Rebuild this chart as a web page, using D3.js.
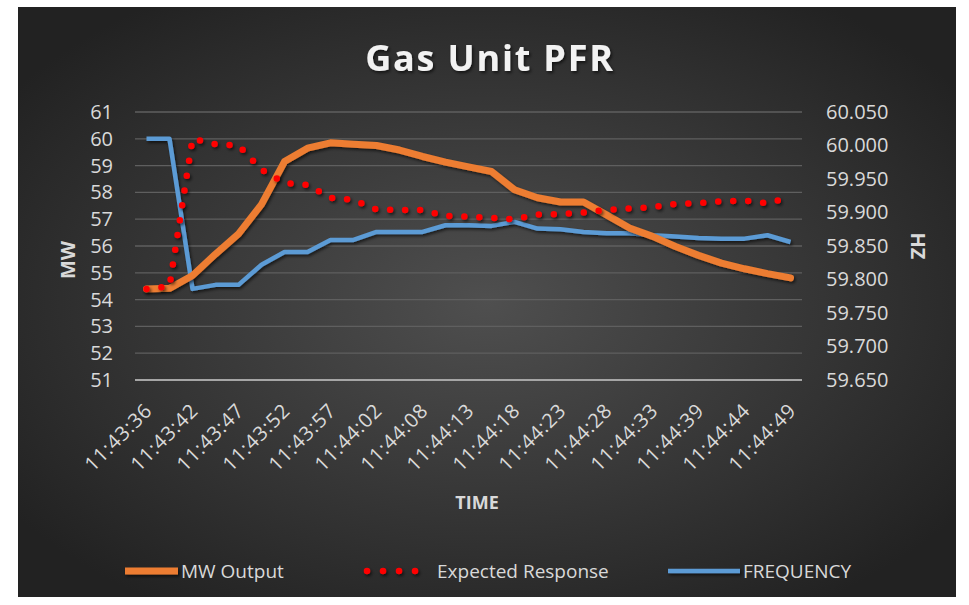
<!DOCTYPE html>
<html>
<head>
<meta charset="utf-8">
<script src="https://cdnjs.cloudflare.com/ajax/libs/d3/7.8.5/d3.min.js"></script>
<style>
    body { margin: 0; background: #fff; }
    text { font-family: "Open Sans", "Noto Sans", sans-serif; }
</style>
</head>
<body>
<div id="chart"></div>
<script>

var times = ["11:43:36", "11:43:39", "11:43:42", "11:43:44", "11:43:47", "11:43:49", "11:43:52", "11:43:54",
    "11:43:57", "11:44:00", "11:44:02", "11:44:05", "11:44:08", "11:44:10", "11:44:13", "11:44:15",
    "11:44:18", "11:44:20", "11:44:23", "11:44:26", "11:44:28", "11:44:31", "11:44:33", "11:44:36",
    "11:44:39", "11:44:41", "11:44:44", "11:44:46", "11:44:49"];

var timeLabels = ["11:43:36", "11:43:42", "11:43:47", "11:43:52", "11:43:57", "11:44:02", "11:44:08",
    "11:44:13", "11:44:18", "11:44:23", "11:44:28", "11:44:33", "11:44:39", "11:44:44", "11:44:49"];

var mwOutput = [54.4, 54.42, 54.9, 55.7, 56.45, 57.55, 59.15, 59.65, 59.85, 59.8, 59.75, 59.58, 59.34, 59.13,
    58.95, 58.78, 58.1, 57.8, 57.64, 57.64, 57.16, 56.67, 56.36, 55.98, 55.65, 55.36, 55.15, 54.97, 54.81];

var expectedResponse = [54.4, 54.5, 60.0, 59.8, 59.75, 58.85, 58.35, 58.28, 57.8, 57.72, 57.36, 57.35, 57.34,
    57.12, 57.1, 57.05, 57.0, 57.17, 57.19, 57.25, 57.35, 57.4, 57.45, 57.57, 57.6, 57.67, 57.69, 57.6, 57.82];

var frequency = [60.01, 60.01, 59.786, 59.792, 59.792, 59.822, 59.841, 59.841, 59.859, 59.859, 59.871, 59.871,
    59.871, 59.881, 59.881, 59.880, 59.886, 59.876, 59.875, 59.871, 59.869, 59.869, 59.866, 59.864, 59.862,
    59.861, 59.861, 59.866, 59.856];

var mwTicks = [51, 52, 53, 54, 55, 56, 57, 58, 59, 60, 61];
var hzTicks = [59.65, 59.70, 59.75, 59.80, 59.85, 59.90, 59.95, 60.00, 60.05];

function drawChart() {

    var width = 969,
        height = 605,
        plotLeft = 135,
        plotRight = 802,
        plotTop = 112,
        plotBottom = 380;

    var svg = d3.select("#chart")
        .append("svg")
        .attr("width", width)
        .attr("height", height);

    var defs = svg.append("defs");

    var grad = defs.append("radialGradient")
        .attr("id", "bg")
        .attr("cx", "50%").attr("cy", "50%")
        .attr("r", "62%");
    grad.append("stop").attr("offset", "0%").attr("stop-color", "#4f4f4f");
    grad.append("stop").attr("offset", "100%").attr("stop-color", "#222222");

    // shadow filter in user space so flat legend lines keep it too
    var shadow = defs.append("filter")
        .attr("id", "shadow")
        .attr("filterUnits", "userSpaceOnUse")
        .attr("x", 0).attr("y", 0)
        .attr("width", width).attr("height", height);
    shadow.append("feDropShadow")
        .attr("dx", 1.5).attr("dy", 2)
        .attr("stdDeviation", 1.8)
        .attr("flood-color", "#000")
        .attr("flood-opacity", 0.6);

    // chart background
    svg.append("rect")
        .attr("x", 18).attr("y", 7)
        .attr("width", 938).attr("height", 590)
        .attr("fill", "url(#bg)");

    svg.append("text")
        .attr("x", 490).attr("y", 71)
        .attr("text-anchor", "middle")
        .style("font-size", "36px")
        .style("font-weight", "bold")
        .style("letter-spacing", "1.8px")
        .attr("fill", "#f2f2f2")
        .attr("filter", "url(#shadow)")
        .text("Gas Unit PFR");

    var x = d3.scaleBand()
        .domain(times)
        .range([plotLeft, plotRight])
        .padding(0);

    function cx(i) {
        return x(times[i]) + x.bandwidth() / 2;
    }

    var yLeft = d3.scaleLinear().domain([51, 61]).range([plotBottom, plotTop]);
    var yRight = d3.scaleLinear().domain([59.65, 60.05]).range([plotBottom, plotTop]);

    // gridlines
    svg.append("g")
        .selectAll("line")
        .data(mwTicks)
        .enter().append("line")
        .attr("x1", plotLeft).attr("x2", plotRight)
        .attr("y1", function (d) { return yLeft(d); })
        .attr("y2", function (d) { return yLeft(d); })
        .attr("stroke", function (d) { return d == 51 ? "#a6a6a6" : "#5f5f5f"; })
        .attr("stroke-width", function (d) { return d == 51 ? 2 : 1.3; });

    var leftAxis = svg.append("g")
        .attr("transform", "translate(" + (plotLeft - 22) + ",0)")
        .call(d3.axisLeft(yLeft).tickValues(mwTicks).tickSize(0).tickFormat(d3.format("d")));

    var rightAxis = svg.append("g")
        .attr("transform", "translate(" + (plotRight + 24) + ",0)")
        .call(d3.axisRight(yRight).tickValues(hzTicks).tickSize(0).tickFormat(d3.format(".3f")));

    [leftAxis, rightAxis].forEach(function (a) {
        a.select(".domain").remove();
        a.selectAll("text")
            .attr("x", 0)
            .attr("fill", "#d9d9d9")
            .style("font-size", "20px");
    });

    // x labels, every other category
    var xAxis = svg.append("g")
        .attr("transform", "translate(0," + plotBottom + ")")
        .call(d3.axisBottom(x).tickValues(timeLabels).tickSize(0));
    xAxis.select(".domain").remove();
    xAxis.selectAll("text")
        .attr("fill", "#d9d9d9")
        .style("font-size", "20px")
        .style("letter-spacing", "0.8px")
        .attr("text-anchor", "end")
        .attr("transform", "translate(2,27) rotate(-45)")
        .attr("x", 0).attr("y", 0).attr("dy", "0.35em");

    // axis titles
    svg.append("text")
        .attr("transform", "translate(75,260) rotate(-90)")
        .attr("text-anchor", "middle")
        .style("font-size", "20px").style("font-weight", "bold")
        .attr("fill", "#d9d9d9")
        .text("MW");

    svg.append("text")
        .attr("transform", "translate(911,246) rotate(90)")
        .attr("text-anchor", "middle")
        .style("font-size", "20px").style("font-weight", "bold")
        .attr("fill", "#d9d9d9")
        .text("HZ");

    svg.append("text")
        .attr("x", 477).attr("y", 509)
        .attr("text-anchor", "middle")
        .style("font-size", "18px").style("font-weight", "bold")
        .attr("fill", "#d9d9d9")
        .text("TIME");

    // series
    var mwLine = d3.line()
        .x(function (d, i) { return cx(i); })
        .y(function (d) { return yLeft(d); });

    var hzLine = d3.line()
        .x(function (d, i) { return cx(i); })
        .y(function (d) { return yRight(d); });

    svg.append("path")
        .attr("d", hzLine(frequency))
        .attr("fill", "none")
        .attr("stroke", "#5b9bd5")
        .attr("stroke-width", 4.5)
        .attr("stroke-linejoin", "round")
        .attr("filter", "url(#shadow)");

    svg.append("path")
        .attr("d", mwLine(mwOutput))
        .attr("fill", "none")
        .attr("stroke", "#ed7d31")
        .attr("stroke-width", 7)
        .attr("stroke-linejoin", "round")
        .attr("stroke-linecap", "round")
        .attr("filter", "url(#shadow)");

    svg.append("path")
        .attr("d", mwLine(expectedResponse))
        .attr("fill", "none")
        .attr("stroke", "#ff0000")
        .attr("stroke-width", 6.5)
        .attr("stroke-linecap", "round")
        .attr("stroke-dasharray", "0 15")
        .attr("filter", "url(#shadow)");

    // legend
    var legend = [
        {name: "MW Output", x: 125, w: 53, color: "#ed7d31", sw: 7, dash: null},
        {name: "Expected Response", x: 367, w: 64, color: "#ff0000", sw: 6.5, dash: "0 16"},
        {name: "FREQUENCY", x: 668, w: 72, color: "#5b9bd5", sw: 4.5, dash: null}
    ];

    var lg = svg.selectAll(".legend")
        .data(legend)
        .enter().append("g")
        .attr("class", "legend");

    lg.append("line")
        .attr("x1", function (d) { return d.x; })
        .attr("x2", function (d) { return d.x + d.w; })
        .attr("y1", 571).attr("y2", 571)
        .attr("stroke", function (d) { return d.color; })
        .attr("stroke-width", function (d) { return d.sw; })
        .attr("stroke-linecap", function (d) { return d.dash ? "round" : "butt"; })
        .attr("stroke-dasharray", function (d) { return d.dash; })
        .attr("filter", "url(#shadow)");

    lg.append("text")
        .attr("x", function (d) { return d.x + d.w + (d.dash ? 6 : 3); })
        .attr("y", 578)
        .style("font-size", "19px")
        .attr("fill", "#d9d9d9")
        .text(function (d) { return d.name; });
}

drawChart();

</script>
</body>
</html>
